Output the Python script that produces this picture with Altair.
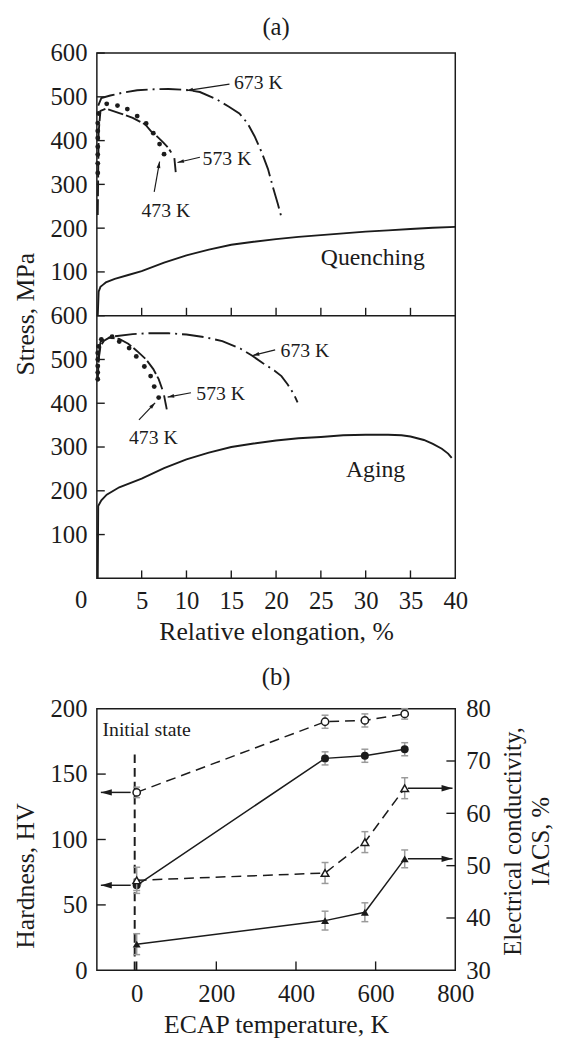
import math
import altair as alt
import pandas as pd

FONT = "Liberation Serif"
INK = "#1b1b1b"
GREY = "#9a9a9a"

# ---------------- (a) stress-strain curves, upper panel: Quenching ----------------
quench_x = [0.1, 0.2, 0.4, 0.7, 1.0, 2.0, 3.5, 5.0, 7.5, 10.0, 12.5, 15.0, 17.5, 20.0,
            22.5, 25.0, 27.5, 30.0, 32.5, 35.0, 37.5, 40.0]
quench_y = [0, 55, 66, 71, 76, 84, 93, 102, 121, 138, 151, 162, 169, 175,
            180, 184, 188, 192, 195, 198, 201, 203]
q673_x = [0.15, 0.5, 1.5, 3.0, 4.5, 6.0, 8.0, 10.0, 11.5, 13.3, 14.7, 15.9, 16.8,
          17.6, 18.4, 19.1, 19.7, 20.2, 20.6]
q673_y = [480, 497, 503, 510, 515, 517, 518, 516, 511, 495, 478, 462, 440,
          410, 373, 335, 290, 255, 225]
q573_x = [0.1, 0.2, 0.4, 1.0, 2.5, 4.0, 5.4, 6.1, 6.8, 7.4, 7.9, 8.3]
q573_y = [230, 420, 468, 473, 463, 452, 437, 420, 408, 396, 385, 373]
q573_tail_x = [8.65, 8.8]
q573_tail_y = [360, 328]
q473_x = [0.1, 0.1, 0.1, 0.1, 0.1, 0.1, 0.1, 0.2, 1.1, 2.3, 3.4, 4.5, 5.5, 6.3, 7.0, 7.5]
q473_y = [326, 348, 368, 386, 406, 422, 440, 462, 484, 480, 472, 456, 439, 417, 392, 369]

q_labels = ["673 K", "573 K", "473 K"]
q_label_x = [15.3, 11.8, 7.7]
q_label_y = [531, 358, 238]
q_label_align = ["left", "left", "center"]
q_arrow_x0 = [14.8, 11.5, 6.4]
q_arrow_y0 = [529, 362, 283]
q_arrow_x1 = [10.0, 9.0, 7.0]
q_arrow_y1 = [514, 350, 352]
q_name, q_name_x, q_name_y = "Quenching", 25.0, 131

# ---------------- (a) lower panel: Aging ----------------
aging_x = [0.1, 0.15, 0.5, 1.1, 2.5, 5.0, 7.5, 10.0, 12.5, 15.0, 17.5, 20.0, 22.5, 25.0,
           27.5, 30.0, 32.5, 34.0, 35.0, 36.5, 37.5, 38.5, 39.2, 39.6]
aging_y = [0, 165, 178, 191, 208, 228, 252, 272, 287, 300, 308, 315, 320, 323,
           327, 328, 328, 327, 324, 316, 307, 296, 285, 275]
a673_x = [0.15, 0.4, 1.0, 2.0, 4.0, 6.0, 8.0, 10.0, 12.0, 14.0, 16.0, 17.3, 18.5,
          19.8, 20.6, 21.3, 22.0, 22.4]
a673_y = [500, 540, 548, 553, 558, 560, 560, 557, 551, 542, 525, 509, 492,
          475, 462, 443, 420, 402]
a573_x = [0.1, 0.2, 0.4, 0.8, 1.4, 2.5, 3.5, 4.5, 5.5, 6.3, 6.9, 7.3]
a573_y = [450, 500, 530, 543, 550, 547, 536, 519, 500, 478, 455, 432]
a573_tail_x = [7.5, 7.8]
a573_tail_y = [418, 386]
a473_x = [0.1, 0.1, 0.1, 0.1, 0.1, 0.2, 0.5, 1.7, 2.5, 3.6, 4.4, 5.3, 6.0, 6.4, 6.9]
a473_y = [455, 470, 485, 500, 515, 530, 546, 552, 541, 526, 507, 484, 462, 438, 413]

a_labels = ["673 K", "573 K", "473 K"]
a_label_x = [20.5, 11.1, 6.3]
a_label_y = [519, 422, 320]
a_label_align = ["left", "left", "center"]
a_arrow_x0 = [19.9, 10.5, 4.7]
a_arrow_y0 = [522, 424, 362]
a_arrow_x1 = [17.4, 7.9, 6.5]
a_arrow_y1 = [509, 414, 401]
a_name, a_name_x, a_name_y = "Aging", 27.8, 247

stress_ticks = [100, 200, 300, 400, 500, 600]
elong_ticks = [0, 5, 10, 15, 20, 25, 30, 35, 40]
elong_inner_ticks = [5, 10, 15, 20, 25, 30, 35]
PANEL_SPAN = 600  # each stress panel spans 0-600 MPa; the upper one is stacked above

# ---------------- (b) hardness / conductivity vs ECAP temperature ----------------
temps = [0, 473, 573, 673]
hv_open = [136, 190, 191, 196]
hv_open_err = [4, 5, 5, 4]
hv_fill = [65, 162, 164, 169]
hv_fill_err = [4, 5, 5, 5]
ec_open = [47.2, 48.6, 54.5, 64.8]
ec_open_err = [2.5, 2.0, 2.0, 2.0]
ec_fill = [35.0, 39.5, 41.1, 51.3]
ec_fill_err = [2.0, 1.8, 1.8, 1.7]

initial_x, initial_y0, initial_y1 = -5, 0, 165
initial_label, initial_label_x, initial_label_y = "Initial state", -86, 184
left_arrow_y = [136, 65]
left_arrow_x0, left_arrow_x1 = -15, -90
right_arrow_y = [64.8, 51.3]
right_arrow_x0, right_arrow_x1 = 681, 793

hv_ticks = [0, 50, 100, 150, 200]
ec_ticks = [30, 40, 50, 60, 70, 80]
t_ticks = [0, 200, 400, 600, 800]

# ---------------- layout constants ----------------
W = 363
HA = 266          # height of each stress panel
HB = 265
TICK = 8
LABEL_SIZE = 25
TITLE_SIZE = 26
ARROW = "M0,0L0.5,1.7L-0.5,1.7Z"

xs_a = alt.Scale(domain=[0, 40], nice=False, zero=False)
ys_a = alt.Scale(domain=[0, 2 * PANEL_SPAN], nice=False, zero=False)
xs_b = alt.Scale(domain=[-100, 800], nice=False, zero=False)
ys_hv = alt.Scale(domain=[0, 200], nice=False, zero=False)
ys_ec = alt.Scale(domain=[30, 80], nice=False, zero=False)


def axis(**kw):
    style = dict(labelFont=FONT, titleFont=FONT, labelFontSize=LABEL_SIZE,
                 titleFontSize=TITLE_SIZE, titleFontWeight="normal",
                 labelColor=INK, titleColor=INK, grid=False, ticks=False, tickSize=0,
                 domain=False, labelFlush=False)
    style.update(kw)
    return alt.Axis(**style)


def X(field, scale, ax=None):
    return alt.X(field, scale=scale, axis=ax) if ax is not None else alt.X(field, scale=scale)


def Y(field, scale, ax=None):
    return alt.Y(field, scale=scale, axis=ax) if ax is not None else alt.Y(field, scale=scale)


def angles(x0, y0, x1, y1, kx, ky):
    return [math.degrees(math.atan2((b - a) * kx, (d - c) * ky)) % 360
            for a, c, b, d in zip(x0, y0, x1, y1)]


def shifted(ch, off, *fields):
    """Stack a panel by offsetting its stress fields inside Vega-Lite."""
    return ch.transform_calculate(**{f + "p": f"datum.{f} + {off}" for f in fields})


def curve(xv, yv, xs, ys, off=0, dash=None, width=1.9, seg=None, x_axis=None, y_axis=None):
    d = pd.DataFrame({"x": xv, "y": yv, "i": list(range(len(xv))),
                      "seg": seg if seg is not None else [0] * len(xv)})
    kw = dict(color=INK, strokeWidth=width)
    if dash:
        kw["strokeDash"] = dash
    return shifted(alt.Chart(d), off, "y").mark_line(**kw).encode(
        x=X("x:Q", xs, x_axis), y=Y("yp:Q", ys, y_axis), order="i:Q", detail="seg:N")


def arrows(x0, y0, x1, y1, xs, ys, kx, ky, off=0, head=60, width=1.2):
    d = pd.DataFrame({"x0": x0, "y0": y0, "x1": x1, "y1": y1,
                      "ang": angles(x0, y0, x1, y1, kx, ky)})
    base = shifted(alt.Chart(d), off, "y0", "y1")
    shaft = base.mark_rule(color=INK, strokeWidth=width).encode(
        x=X("x0:Q", xs), y=Y("y0p:Q", ys), x2="x1:Q", y2="y1p:Q")
    tip = base.mark_point(shape=ARROW, filled=True, color=INK, size=head, opacity=1).encode(
        x=X("x1:Q", xs), y=Y("y1p:Q", ys), angle=alt.Angle("ang:Q", scale=None))
    return [shaft, tip]


def stress_layers(bx, by, c673x, c673y, c573x, c573y, tx, ty, d473x, d473y,
                  labs, labx, laby, labal, ax0, ay0, ax1, ay1, name, nx, ny, off,
                  x_axis=None, y_axis=None):
    layers = [curve(bx, by, xs_a, ys_a, off, x_axis=x_axis, y_axis=y_axis),
              curve(c673x, c673y, xs_a, ys_a, off, dash=[22, 5, 2, 5]),
              curve(c573x + tx, c573y + ty, xs_a, ys_a, off, dash=[16, 3],
                    seg=[0] * len(c573x) + [1] * len(tx))]
    dots = pd.DataFrame({"x": d473x, "y": d473y})
    layers.append(shifted(alt.Chart(dots), off, "y").mark_circle(
        size=24, color=INK, opacity=1).encode(x=X("x:Q", xs_a), y=Y("yp:Q", ys_a)))
    layers += arrows(ax0, ay0, ax1, ay1, xs_a, ys_a, W / 40, HA / PANEL_SPAN, off)
    lab_df = pd.DataFrame({"x": labx, "y": laby, "t": labs, "al": labal})
    for al in ["left", "center"]:
        layers.append(shifted(alt.Chart(lab_df[lab_df["al"] == al]), off, "y").mark_text(
            align=al, baseline="middle", fontSize=20, color=INK, font=FONT).encode(
            x=X("x:Q", xs_a), y=Y("yp:Q", ys_a), text="t:N"))
    name_df = pd.DataFrame({"x": [nx], "y": [ny], "t": [name]})
    layers.append(shifted(alt.Chart(name_df), off, "y").mark_text(
        align="left", baseline="middle", fontSize=24, color=INK, font=FONT).encode(
        x=X("x:Q", xs_a), y=Y("yp:Q", ys_a), text="t:N"))
    return layers


def caption(label, ypix):
    return alt.Chart(pd.DataFrame({"t": [label]})).mark_text(
        align="center", baseline="alphabetic", fontSize=25, color=INK, font=FONT).encode(
        x=alt.value(W / 2), y=alt.value(ypix), text="t:N")


stress_axis_values = stress_ticks + [v + PANEL_SPAN for v in stress_ticks]
y_axis_a = axis(values=stress_axis_values,
                labelExpr=f"datum.value > {PANEL_SPAN} ? '' + (datum.value - {PANEL_SPAN}) : datum.label",
                labelPadding=10, title="Stress, MPa",
                titleX=-64, titleY=HA - 2, titleAngle=270, titleAlign="center",
                titleBaseline="alphabetic")
x_axis_a = axis(values=elong_ticks, labelExpr="datum.value == 0 ? '' : datum.label",
                labelPadding=30.5, labelBaseline="alphabetic",
                title="Relative elongation, %", titleX=W / 2, titleY=62,
                titleAlign="center", titleBaseline="alphabetic")

a_layers = []
a_layers += stress_layers(aging_x, aging_y, a673_x, a673_y, a573_x, a573_y, a573_tail_x,
                          a573_tail_y, a473_x, a473_y, a_labels, a_label_x, a_label_y,
                          a_label_align, a_arrow_x0, a_arrow_y0, a_arrow_x1, a_arrow_y1,
                          a_name, a_name_x, a_name_y, 0, x_axis=x_axis_a, y_axis=y_axis_a)
a_layers += stress_layers(quench_x, quench_y, q673_x, q673_y, q573_x, q573_y, q573_tail_x,
                          q573_tail_y, q473_x, q473_y, q_labels, q_label_x, q_label_y,
                          q_label_align, q_arrow_x0, q_arrow_y0, q_arrow_x1, q_arrow_y1,
                          q_name, q_name_x, q_name_y, PANEL_SPAN)
# seam between the two stress panels
a_layers.append(alt.Chart(pd.DataFrame({"v": [PANEL_SPAN]})).mark_rule(
    color=INK, strokeWidth=1.5).encode(
    y=Y("v:Q", ys_a), x=alt.value(0), x2=alt.value(W)))
# inward ticks
a_layers.append(alt.Chart(pd.DataFrame({"v": stress_axis_values})).mark_rule(
    color=INK, strokeWidth=1.4).encode(
    y=Y("v:Q", ys_a), x=alt.value(0), x2=alt.value(TICK)))
for ybase in (HA, 2 * HA):
    a_layers.append(alt.Chart(pd.DataFrame({"v": elong_inner_ticks})).mark_rule(
        color=INK, strokeWidth=1.4).encode(
        x=X("v:Q", xs_a), y=alt.value(ybase), y2=alt.value(ybase - TICK)))
a_layers.append(alt.Chart(pd.DataFrame({"x": [0], "t": ["0"]})).mark_text(
    align="center", baseline="alphabetic", dx=-16, fontSize=LABEL_SIZE, color=INK,
    font=FONT).encode(x=X("x:Q", xs_a), y=alt.value(2 * HA + 30.5), text="t:N"))
a_layers.append(caption("(a)", -18))

a = alt.layer(*a_layers).properties(width=W, height=2 * HA)


# ---------------- panel (b) ----------------
def series(v, err, ys, dash, shape, hollow, size, x_axis=None, y_axis=None):
    d = pd.DataFrame({"T": temps, "v": v,
                      "lo": [p - e for p, e in zip(v, err)],
                      "hi": [p + e for p, e in zip(v, err)]})
    kw = dict(color=INK, strokeWidth=1.5)
    if dash:
        kw["strokeDash"] = dash
    line = alt.Chart(d).mark_line(**kw).encode(
        x=X("T:Q", xs_b, x_axis), y=Y("v:Q", ys, y_axis))
    bars = alt.Chart(d).mark_rule(color=GREY, strokeWidth=1.5).encode(
        x=X("T:Q", xs_b), y=Y("lo:Q", ys), y2="hi:Q")
    caps = [alt.Chart(d).mark_point(shape="stroke", size=49, color=GREY,
                                    strokeWidth=1.5, opacity=1).encode(
        x=X("T:Q", xs_b), y=Y(f + ":Q", ys)) for f in ("lo", "hi")]
    if hollow:
        mk = alt.Chart(d).mark_point(shape=shape, filled=True, fill="white", stroke=INK,
                                     strokeWidth=1.5, size=size, opacity=1)
    else:
        mk = alt.Chart(d).mark_point(shape=shape, filled=True, color=INK, size=size,
                                     opacity=1)
    pts = mk.encode(x=X("T:Q", xs_b), y=Y("v:Q", ys))
    return [line], [bars] + caps + [pts]


x_axis_b = axis(values=t_ticks, labelPadding=32, labelBaseline="alphabetic",
                title="ECAP temperature, K", titleX=W / 2, titleY=63,
                titleAlign="center", titleBaseline="alphabetic")
hv_axis = axis(values=hv_ticks, labelPadding=10, title="Hardness, HV",
               titleX=-64, titleY=169, titleAngle=270, titleAlign="center",
               titleBaseline="alphabetic")
ec_axis = axis(values=ec_ticks, orient="right", labelPadding=10.5, labelAlign="left",
               title="")

l1, p1 = series(hv_open, hv_open_err, ys_hv, [10, 6], "circle", True, 55,
                x_axis=x_axis_b, y_axis=hv_axis)
l2, p2 = series(hv_fill, hv_fill_err, ys_hv, None, "circle", False, 65)
l3, p3 = series(ec_open, ec_open_err, ys_ec, [10, 6], "triangle-up", True, 60, y_axis=ec_axis)
l4, p4 = series(ec_fill, ec_fill_err, ys_ec, None, "triangle-up", False, 65)

init_df = pd.DataFrame({"x": [initial_x], "y0": [initial_y0], "y1": [initial_y1]})
init_line = alt.Chart(init_df).mark_rule(color=INK, strokeWidth=2, strokeDash=[9, 5]).encode(
    x=X("x:Q", xs_b), y=Y("y0:Q", ys_hv), y2="y1:Q")
init_text = alt.Chart(pd.DataFrame({"x": [initial_label_x], "y": [initial_label_y],
                                    "t": [initial_label]})).mark_text(
    align="left", baseline="middle", fontSize=20, color=INK, font=FONT).encode(
    x=X("x:Q", xs_b), y=Y("y:Q", ys_hv), text="t:N")

kxb, kyh, kye = W / 900, HB / 200, HB / 50
left_arrows = arrows([left_arrow_x0] * 2, left_arrow_y, [left_arrow_x1] * 2, left_arrow_y,
                     xs_b, ys_hv, kxb, kyh, head=170, width=1.5)
right_arrows = arrows([right_arrow_x0] * 2, right_arrow_y, [right_arrow_x1] * 2, right_arrow_y,
                      xs_b, ys_ec, kxb, kye, head=170, width=1.5)

hv_tick_rules = alt.Chart(pd.DataFrame({"v": hv_ticks[1:-1]})).mark_rule(
    color=INK, strokeWidth=1.4).encode(
    y=Y("v:Q", ys_hv), x=alt.value(0), x2=alt.value(TICK + 1))
t_tick_rules = alt.Chart(pd.DataFrame({"v": t_ticks[:-1]})).mark_rule(
    color=INK, strokeWidth=1.4).encode(
    x=X("v:Q", xs_b), y=alt.value(HB), y2=alt.value(HB - TICK - 1))
ec_tick_rules = alt.Chart(pd.DataFrame({"v": ec_ticks[1:-1]})).mark_rule(
    color=INK, strokeWidth=1.4).encode(
    y=Y("v:Q", ys_ec), x=alt.value(W - TICK - 1), x2=alt.value(W))

ec_title_1 = alt.Chart(pd.DataFrame({"t": ["Electrical conductivity,"]})).mark_text(
    angle=270, align="center", baseline="alphabetic", fontSize=25, color=INK,
    font=FONT).encode(x=alt.value(W + 67), y=alt.value(134.5), text="t:N")
ec_title_2 = alt.Chart(pd.DataFrame({"t": ["IACS, %"]})).mark_text(
    angle=270, align="center", baseline="alphabetic", fontSize=25, color=INK,
    font=FONT).encode(x=alt.value(W + 95), y=alt.value(134.5), text="t:N")

left_group = alt.layer(*(l1 + l2 + [init_line] + p1 + p2 + left_arrows +
                         [init_text, hv_tick_rules, t_tick_rules, caption("(b)", -23.5)]))
right_group = alt.layer(*(l3 + l4 + p3 + p4 + right_arrows +
                          [ec_tick_rules, ec_title_1, ec_title_2]))

b = alt.layer(left_group, right_group).resolve_scale(y="independent").properties(
    width=W, height=HB)

chart = alt.vconcat(a, b, spacing=19).properties(
    padding={"left": 4, "top": 0, "right": 0, "bottom": 0}
).configure(
    font=FONT
).configure_view(
    stroke=INK, strokeWidth=1.5
).configure_axis(
    labelFont=FONT, titleFont=FONT, labelFontSize=LABEL_SIZE, titleFontSize=TITLE_SIZE,
    titleFontWeight="normal", labelColor=INK, titleColor=INK, grid=False,
    ticks=False, tickSize=0, domain=False, labelFlush=False
).configure_text(
    font=FONT
)

chart.save("out.html", embed_options={"renderer": "svg", "actions": False})
